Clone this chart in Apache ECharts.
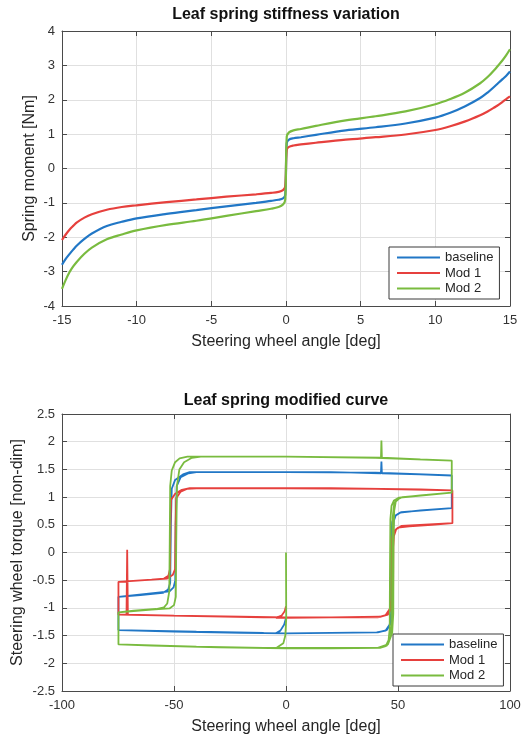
<!DOCTYPE html>
<html>
<head>
<meta charset="utf-8">
<script src="https://cdn.jsdelivr.net/npm/echarts@6/dist/echarts.min.js"></script>
<style>
  html, body { margin: 0; padding: 0; background: #ffffff; }
  #chart { width: 528px; height: 738px; }
</style>
</head>
<body>
<div id="chart"></div>
<script>
// ---- Leaf spring stiffness variation: spring moment vs steering wheel angle ----
const stiffAngle = [-15, -14.75, -14.5, -14.25, -14, -13.5, -13, -12, -11, -10, -8, -6, -4, -2, -1, -0.5, -0.2, -0.05,
                    0.05, 0.2, 0.5, 1, 2, 4, 6, 8, 10, 11, 12, 13, 13.5, 14, 14.25, 14.5, 14.75, 15];
const stiffBaseline = [-2.8, -2.63, -2.49, -2.36, -2.24, -2.05, -1.89, -1.67, -1.55, -1.45, -1.32, -1.21, -1.10, -1.0, -0.94, -0.91, -0.87, -0.77,
                       0.74, 0.84, 0.88, 0.91, 0.98, 1.11, 1.2, 1.31, 1.48, 1.62, 1.81, 2.05, 2.21, 2.4, 2.5, 2.6, 2.7, 2.82];
const stiffMod1 = [-2.08, -1.92, -1.78, -1.67, -1.57, -1.43, -1.33, -1.2, -1.12, -1.07, -0.98, -0.9, -0.82, -0.75, -0.71, -0.68, -0.63, -0.52,
                   0.55, 0.63, 0.67, 0.7, 0.75, 0.84, 0.91, 0.99, 1.12, 1.23, 1.37, 1.55, 1.66, 1.79, 1.86, 1.94, 2.02, 2.1];
const stiffMod2 = [-3.5, -3.24, -3.02, -2.85, -2.71, -2.48, -2.3, -2.06, -1.92, -1.8, -1.64, -1.52, -1.38, -1.24, -1.17, -1.12, -1.05, -0.9,
                   0.93, 1.05, 1.11, 1.15, 1.24, 1.4, 1.52, 1.66, 1.87, 2.02, 2.21, 2.48, 2.66, 2.89, 3.02, 3.15, 3.3, 3.47];

// ---- Leaf spring modified curve: steering wheel torque vs angle, [angle, torque] in sweep order ----
const loopBaseline = [
  [0, -1.18], [-0.8, -1.3], [-2.5, -1.41], [-4.5, -1.46],
  [0, -1.46], [20, -1.45], [40.5, -1.44], [44.5, -1.41], [46.3, -1.3], [46.9, -1.1],
  [47.0, 0.3], [47.4, 0.55], [48.5, 0.66], [51, 0.72], [60, 0.76], [74, 0.8],
  [74, 1.39],
  [60, 1.41], [42.8, 1.43], [42.6, 1.64], [42.4, 1.43], [20, 1.45], [0, 1.45], [-30, 1.45], [-43, 1.45],
  [-46, 1.41], [-49.5, 1.31], [-51, 1.15],
  [-51.4, 0.5], [-51.7, -0.55], [-52.6, -0.67], [-55, -0.73], [-65, -0.77], [-74.8, -0.8],
  [-74.8, -1.4],
  [-50, -1.43], [-20, -1.45], [0, -1.46], [20, -1.45], [41, -1.44], [45, -1.4], [47.2, -1.25], [47.6, -1.05],
  [47.7, 0.3], [48.1, 0.57], [49, 0.67], [51.5, 0.73], [74, 0.8],
  [74, 1.39],
  [40, 1.44], [0, 1.45], [-40, 1.45], [-43.5, 1.43], [-47, 1.36], [-48.8, 1.2],
  [-49.2, 0.5], [-49.4, -0.5], [-50.2, -0.63], [-52, -0.7], [-74.8, -0.8],
  [-74.8, -1.4], [-40, -1.43], [-10, -1.45]
];
const loopMod1 = [
  [0, -0.97], [-0.6, -1.06], [-2, -1.14], [-4.5, -1.18],
  [0, -1.18], [20, -1.17], [41, -1.17], [44.5, -1.13], [46.3, -1.02], [47.0, -0.85],
  [47.1, 0.0], [47.3, 0.25], [48.0, 0.38], [50, 0.45], [55, 0.47], [65, 0.5], [74.3, 0.53],
  [74.3, 1.12],
  [60, 1.14], [42.8, 1.15], [42.6, 1.18], [42.4, 1.15], [20, 1.16], [0, 1.16], [-30, 1.16], [-43, 1.16],
  [-46.5, 1.13], [-49.5, 1.06], [-51.3, 0.95],
  [-51.6, 0.5], [-51.8, -0.3], [-52.5, -0.42], [-54.5, -0.47], [-60, -0.49], [-74.8, -0.53],
  [-74.8, -1.12],
  [-71.2, -1.12], [-70.9, 0.05], [-70.6, -1.12],
  [-50, -1.14], [-20, -1.16], [0, -1.17], [20, -1.17], [42, -1.16], [45.5, -1.12], [47.2, -1.0], [47.8, -0.85],
  [47.9, 0.1], [48.2, 0.3], [49.2, 0.42], [51.5, 0.48], [74.3, 0.53],
  [74.3, 1.12],
  [40, 1.15], [0, 1.16], [-40, 1.16], [-44, 1.15], [-47, 1.1], [-49, 0.98],
  [-49.3, 0.5], [-49.5, -0.3], [-50.5, -0.4], [-53, -0.47], [-74.8, -0.53],
  [-74.8, -1.12], [-40, -1.15], [-10, -1.17]
];
const loopMod2 = [
  [0, 0], [0.1, -1.2], [-0.3, -1.5], [-1.2, -1.64], [-4.5, -1.73],
  [0, -1.73], [20, -1.73], [42, -1.72], [44.5, -1.69], [45.8, -1.58], [46.3, -1.38],
  [46.4, -0.4], [46.6, 0.6], [47.1, 0.84], [48.2, 0.94], [50.5, 0.99], [60, 1.03], [74, 1.08],
  [74, 1.66],
  [60, 1.68], [42.8, 1.71], [42.6, 2.02], [42.4, 1.71], [20, 1.72], [0, 1.73], [-30, 1.73], [-44, 1.73],
  [-47.5, 1.70], [-49.5, 1.63], [-51, 1.48], [-51.7, 1.2],
  [-51.9, 0.2], [-52.1, -0.7], [-53, -0.92], [-54.5, -0.99], [-58, -1.02], [-68, -1.05], [-74.8, -1.08],
  [-74.8, -1.66],
  [-60, -1.68], [-30, -1.71], [0, -1.73], [20, -1.73], [41.5, -1.72], [45, -1.68], [46.8, -1.52], [47.3, -1.25],
  [47.4, 0.0], [47.6, 0.62], [48.3, 0.88], [49.6, 0.96], [52, 1.0], [74, 1.08],
  [74, 1.66],
  [40, 1.71], [0, 1.73], [-38, 1.73], [-42, 1.71], [-45.5, 1.63], [-47.6, 1.5], [-48.7, 1.2],
  [-49, 0.2], [-49.2, -0.8], [-50, -0.95], [-52, -1.01], [-60, -1.03], [-74.8, -1.08],
  [-74.8, -1.66], [-40, -1.70], [-10, -1.72],
  [20, -1.72], [41, -1.72], [45.5, -1.66], [47.4, -1.45], [47.9, -1.1],
  [48.0, 0.2], [48.3, 0.75], [49, 0.92], [51, 0.99], [74, 1.08]
];

const seriesNames = ['baseline', 'Mod 1', 'Mod 2'];
const seriesColors = ['#2177c6', '#e6403d', '#79bb3f'];

const FONT = '"Liberation Sans", Arial, Helvetica, sans-serif';
const AXIS_COLOR = '#4a4a4a';
const GRID_COLOR = '#e0e0e0';
const LABEL_COLOR = '#333333';

function xAxes(gridIndex, min, max, interval, name) {
  const common = {
    gridIndex, type: 'value', min, max, interval,
    axisLine: { show: true, onZero: false, lineStyle: { color: AXIS_COLOR, width: 1 } },
    axisTick: { show: true, inside: true, length: 5, lineStyle: { color: AXIS_COLOR } }
  };
  return [
    Object.assign({}, common, {
      position: 'bottom',
      axisLabel: { fontSize: 13, color: LABEL_COLOR, margin: 8, fontFamily: FONT },
      splitLine: { show: true, lineStyle: { color: GRID_COLOR, width: 1 } },
      name, nameLocation: 'middle', nameGap: 28, nameMoveOverlap: false,
      nameTextStyle: { fontSize: 16, color: '#262626', fontFamily: FONT }
    }),
    Object.assign({}, common, {
      position: 'top',
      axisLabel: { show: false },
      splitLine: { show: false }
    })
  ];
}

function yAxes(gridIndex, min, max, interval, name, nameGap) {
  const common = {
    gridIndex, type: 'value', min, max, interval,
    axisLine: { show: true, onZero: false, lineStyle: { color: AXIS_COLOR, width: 1 } },
    axisTick: { show: true, inside: true, length: 5, lineStyle: { color: AXIS_COLOR } }
  };
  return [
    Object.assign({}, common, {
      position: 'left',
      axisLabel: { fontSize: 13, color: LABEL_COLOR, margin: 7, fontFamily: FONT },
      splitLine: { show: true, lineStyle: { color: GRID_COLOR, width: 1 } },
      name, nameLocation: 'middle', nameGap, nameMoveOverlap: false,
      nameTextStyle: { fontSize: 16, color: '#262626', fontFamily: FONT }
    }),
    Object.assign({}, common, {
      position: 'right',
      axisLabel: { show: false },
      splitLine: { show: false }
    })
  ];
}

function legendAt(left, top) {
  return {
    data: seriesNames,
    orient: 'vertical',
    left, top,
    padding: [4, 6, 4, 8],
    itemGap: 2.5,
    itemWidth: 43,
    itemHeight: 2,
    icon: 'rect',
    borderColor: '#3a3a3a',
    borderWidth: 1,
    borderRadius: 0,
    backgroundColor: '#ffffff',
    selectedMode: false,
    textStyle: { fontSize: 13, lineHeight: 13, color: '#262626', fontFamily: FONT }
  };
}

const stiffSeries = [stiffBaseline, stiffMod1, stiffMod2].map((vals, i) => ({
  name: seriesNames[i],
  type: 'line',
  xAxisIndex: 0, yAxisIndex: 0,
  data: stiffAngle.map((a, k) => [a, vals[k]]),
  symbol: 'none',
  smooth: 0.35,
  lineStyle: { color: seriesColors[i], width: 2.2 },
  itemStyle: { color: seriesColors[i] },
  z: 3 + i
}));

const loopSeries = [loopBaseline, loopMod1, loopMod2].map((pts, i) => ({
  name: seriesNames[i],
  type: 'line',
  xAxisIndex: 2, yAxisIndex: 2,
  data: pts,
  symbol: 'none',
  lineStyle: { color: seriesColors[i], width: 1.8 },
  itemStyle: { color: seriesColors[i] },
  z: 3 + i
}));

const chart = echarts.init(document.getElementById('chart'), null, { renderer: 'canvas' });
chart.setOption({
  animation: false,
  backgroundColor: '#ffffff',
  textStyle: { fontFamily: FONT },
  title: [
    { text: 'Leaf spring stiffness variation', left: 286, top: 7, textAlign: 'center', padding: 0,
      textStyle: { fontSize: 16, fontWeight: 'bold', color: '#111111', fontFamily: FONT } },
    { text: 'Leaf spring modified curve', left: 286, top: 393, textAlign: 'center', padding: 0,
      textStyle: { fontSize: 16, fontWeight: 'bold', color: '#111111', fontFamily: FONT } }
  ],
  grid: [
    { left: 62, right: 18, top: 31, height: 275, outerBoundsMode: 'none', containLabel: false },
    { left: 62, right: 18, top: 414, height: 277, outerBoundsMode: 'none', containLabel: false }
  ],
  xAxis: [
    ...xAxes(0, -15, 15, 5, 'Steering wheel angle [deg]'),
    ...xAxes(1, -100, 100, 50, 'Steering wheel angle [deg]')
  ],
  yAxis: [
    ...yAxes(0, -4, 4, 1, 'Spring moment [Nm]', 24),
    ...yAxes(1, -2.5, 2.5, 0.5, 'Steering wheel torque [non-dim]', 36)
  ],
  legend: [legendAt(389, 247), legendAt(393, 634)],
  series: [...stiffSeries, ...loopSeries]
});
</script>
</body>
</html>
